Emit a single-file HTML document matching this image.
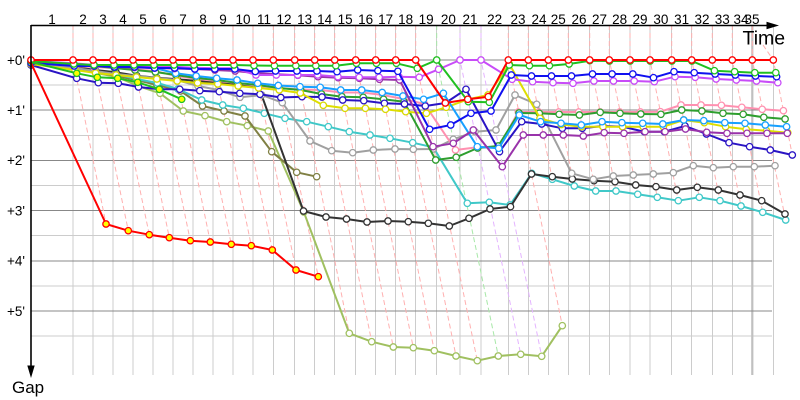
<!DOCTYPE html>
<html>
<head>
<meta charset="utf-8">
<style>
html,body{margin:0;padding:0;background:#fff;}
svg{display:block;}
text{font-family:"Liberation Sans",Arial,sans-serif;fill:#000;}
</style>
</head>
<body>
<svg width="800" height="400" viewBox="0 0 800 400" xmlns="http://www.w3.org/2000/svg">
<defs>
<marker id="mRed" viewBox="-5 -5 10 10" markerWidth="10" markerHeight="10" markerUnits="userSpaceOnUse"><circle r="3.2" fill="#fff" stroke="#ff0000" stroke-width="1.3"/></marker>
<marker id="mGreen" viewBox="-5 -5 10 10" markerWidth="10" markerHeight="10" markerUnits="userSpaceOnUse"><circle r="3.2" fill="#fff" stroke="#20c020" stroke-width="1.3"/></marker>
<marker id="mBlue" viewBox="-5 -5 10 10" markerWidth="10" markerHeight="10" markerUnits="userSpaceOnUse"><circle r="3.2" fill="#fff" stroke="#1010f0" stroke-width="1.3"/></marker>
<marker id="mViolet" viewBox="-5 -5 10 10" markerWidth="10" markerHeight="10" markerUnits="userSpaceOnUse"><circle r="3.2" fill="#fff" stroke="#c84cf8" stroke-width="1.3"/></marker>
<marker id="mPurple" viewBox="-5 -5 10 10" markerWidth="10" markerHeight="10" markerUnits="userSpaceOnUse"><circle r="3.2" fill="#fff" stroke="#9933aa" stroke-width="1.3"/></marker>
<marker id="mDodger" viewBox="-5 -5 10 10" markerWidth="10" markerHeight="10" markerUnits="userSpaceOnUse"><circle r="3.2" fill="#fff" stroke="#18a0ff" stroke-width="1.3"/></marker>
<marker id="mPink" viewBox="-5 -5 10 10" markerWidth="10" markerHeight="10" markerUnits="userSpaceOnUse"><circle r="3.2" fill="#fff" stroke="#ff90b0" stroke-width="1.3"/></marker>
<marker id="mDkGreen" viewBox="-5 -5 10 10" markerWidth="10" markerHeight="10" markerUnits="userSpaceOnUse"><circle r="3.2" fill="#fff" stroke="#2e9e2e" stroke-width="1.3"/></marker>
<marker id="mNavy" viewBox="-5 -5 10 10" markerWidth="10" markerHeight="10" markerUnits="userSpaceOnUse"><circle r="3.2" fill="#fff" stroke="#2a14c4" stroke-width="1.3"/></marker>
<marker id="mYellow" viewBox="-5 -5 10 10" markerWidth="10" markerHeight="10" markerUnits="userSpaceOnUse"><circle r="3.2" fill="#fff" stroke="#d8d800" stroke-width="1.3"/></marker>
<marker id="mGray" viewBox="-5 -5 10 10" markerWidth="10" markerHeight="10" markerUnits="userSpaceOnUse"><circle r="3.2" fill="#fff" stroke="#a0a0a0" stroke-width="1.3"/></marker>
<marker id="mBlack" viewBox="-5 -5 10 10" markerWidth="10" markerHeight="10" markerUnits="userSpaceOnUse"><circle r="3.2" fill="#fff" stroke="#333333" stroke-width="1.3"/></marker>
<marker id="mTeal" viewBox="-5 -5 10 10" markerWidth="10" markerHeight="10" markerUnits="userSpaceOnUse"><circle r="3.2" fill="#fff" stroke="#40c8c8" stroke-width="1.3"/></marker>
<marker id="mOlive" viewBox="-5 -5 10 10" markerWidth="10" markerHeight="10" markerUnits="userSpaceOnUse"><circle r="3.2" fill="#fff" stroke="#808044" stroke-width="1.3"/></marker>
<marker id="mYG" viewBox="-5 -5 10 10" markerWidth="10" markerHeight="10" markerUnits="userSpaceOnUse"><circle r="3.2" fill="#fff" stroke="#a0c060" stroke-width="1.3"/></marker>
<marker id="mRedY" viewBox="-5 -5 10 10" markerWidth="10" markerHeight="10" markerUnits="userSpaceOnUse"><circle r="3.2" fill="#ffff00" stroke="#ff0000" stroke-width="1.3"/></marker>
<marker id="mGreenY" viewBox="-5 -5 10 10" markerWidth="10" markerHeight="10" markerUnits="userSpaceOnUse"><circle r="3.2" fill="#ffff00" stroke="#20c020" stroke-width="1.3"/></marker>
</defs>

<!-- vertical grid -->
<g stroke="#cccccc" stroke-width="1" shape-rendering="crispEdges">
<path d="M73,25V375M93,25V375M113,25V375M133,25V375M153,25V375M173,25V375M193,25V375M213,25V375M233,25V375M253,25V375M273.3,25V375M294.7,25V375M314.7,25V375M334.7,25V375M355.7,25V375M375.7,25V375M395.7,25V375M415.7,25V375M436.7,25V375M460,25V375M481,25V375M508.3,25V375M528.3,25V375M548.3,25V375M568.3,25V375M589.7,25V375M609.3,25V375M630,25V375M650,25V375M671.7,25V375M691.7,25V375M712.3,25V375M732.3,25V375M773.3,25V375"/>
<path d="M31,85.1H772M31,135.3H772M31,185.5H772M31,235.7H772M31,285.9H772M31,336.1H772"/>
</g>
<line x1="752.3" y1="25" x2="752.3" y2="375" stroke="#c0c0c0" stroke-width="2.2"/>
<g stroke="#888888" stroke-width="1" shape-rendering="crispEdges">
<path d="M31,60H772M31,110.2H772M31,160.4H772M31,210.6H772M31,260.8H772M31,311H772"/>
</g>

<!-- dashed lap lines -->
<g fill="none" stroke="#ffb0b0" stroke-width="1" stroke-dasharray="5,3">
<path d="M73,25V60L106,224"/>
<path d="M93,25V60L128.3,230.7"/>
<path d="M113,25V60L149.3,234.7"/>
<path d="M133,25V60L169.3,237.7"/>
<path d="M153,25V60L190.3,240.7"/>
<path d="M173,25V60L210.3,242"/>
<path d="M193,25V60L231.3,244.3"/>
<path d="M213,25V60L251.3,245.7"/>
<path d="M233,25V60L272.3,250"/>
<path d="M253,25V60L296,270"/>
<path d="M273.3,25V60L318.3,276.7"/>
<path d="M294.7,25V60L349.3,333.3"/>
<path d="M314.7,25V60L371.7,341.7"/>
<path d="M334.7,25V60L393.3,347"/>
<path d="M355.7,25V60L413.3,347.7"/>
<path d="M375.7,25V60L434.3,350.7"/>
<path d="M395.7,25V60L456,356"/>
<path d="M415.7,25V60L477.3,360.7"/>
<path d="M508.3,25V60L562.3,325.7"/>
<path d="M528.3,25V60L552.3,179.3"/>
<path d="M548.3,25V60L574.3,186"/>
<path d="M568.3,25V60L595.7,191"/>
<path d="M589.7,25V60L616,191"/>
<path d="M609.3,25V60L637.7,194.3"/>
<path d="M630,25V60L657.3,197.3"/>
<path d="M650,25V60L678.3,200.7"/>
<path d="M671.7,25V60L699.3,197.3"/>
<path d="M691.7,25V60L720,200.7"/>
<path d="M712.3,25V60L741,206"/>
<path d="M732.3,25V60L762.7,212.3"/>
<path d="M752.3,25V60L785.7,220"/>
<path d="M763,45L773.3,60L792.3,155"/>
</g>
<path d="M436.7,25V60L498.3,356" fill="none" stroke="#a8e8a8" stroke-width="1" stroke-dasharray="5,3"/>
<g fill="none" stroke="#e4b4ff" stroke-width="1" stroke-dasharray="5,3">
<path d="M460,25V60L520.7,354.3"/>
<path d="M481,25V60L541.7,356.3"/>
</g>

<!-- series -->
<g fill="none" stroke-width="2" stroke-linejoin="round">
<polyline stroke="#a0c060" marker-start="url(#mYG)" marker-mid="url(#mYG)" marker-end="url(#mYG)" points="31,63 75.2,69 96,73 117,77 138.2,86 160,93.3 183.3,111 205,115.7 226.7,121.7 247.3,125.7 268.3,131 303.8,212 349.3,333.3 371.7,341.7 393.3,347 413.3,347.7 434.3,350.7 456,356 477.3,360.7 498.3,356 520.7,354.3 541.7,356.3 562.3,325.7"/>
<polyline stroke="#808044" marker-start="url(#mOlive)" marker-mid="url(#mOlive)" marker-end="url(#mOlive)" points="31,63 75,68 95.4,72 116,76 136.6,80 157,85 180.5,91 202.5,106 224,111 245,116 271.7,151.7 296.7,172.3 316.7,176.7"/>
<polyline stroke="#40c8c8" marker-start="url(#mTeal)" marker-mid="url(#mTeal)" marker-end="url(#mTeal)" points="31,63 75,67 95.2,70 115.8,74 136.6,79 157.4,83 178,89 201.7,100 222.7,105 243.3,108.3 264.3,113.3 285,118.3 306.7,121.7 328.3,126.7 349.3,131.7 370,135 390,138.3 412.7,142.7 433.3,147.3 467.3,203.3 489.3,202.3 510,205 531.7,173.3 552.3,179.3 574.3,186 595.7,191 616,191 637.7,194.3 657.3,197.3 678.3,200.7 699.3,197.3 720,200.7 741,206 762.7,212.3 785.7,220"/>
<polyline stroke="#333333" marker-start="url(#mBlack)" marker-mid="url(#mBlack)" marker-end="url(#mBlack)" points="31,62 74.4,67 95,70 116,72.3 136.7,75.7 156.7,77.7 177.3,79.3 197.7,81 218.3,82.7 238.3,85 258.5,86.5 303.5,211 326,217 346.5,219 367,222 388,221 408.3,221.7 428.3,223.3 449.3,226 469,218.3 490,209 510.5,206.7 531.5,174 552.3,176.7 572.3,179 594,180.7 615,181.7 635.7,185 656,186.7 676.7,190 697.3,187.3 718.3,190 740,195 761.7,200.7 785,214"/>
<polyline stroke="#a0a0a0" marker-start="url(#mGray)" marker-mid="url(#mGray)" marker-end="url(#mGray)" points="31,63 75,68 95.2,71 115.6,74 136,76 156.4,78 176.8,80 198,86 218.5,90 240,97.3 261.7,95 282.3,102.7 310,141 331.7,150.7 352.7,152.7 373.3,150 395,149 413.3,149.3 433.3,149 453.3,139.3 475,131.7 496,130 515,95 536.7,104.3 571.7,173.3 593.3,179.3 613.3,176 633.3,175 653.3,174 673.3,172.7 693.3,165.7 713.3,167.7 733.3,166.7 754.3,166.7 775,165.7"/>
<polyline stroke="#ff90b0" marker-start="url(#mPink)" marker-mid="url(#mPink)" marker-end="url(#mPink)" points="31,63 74,66 94.2,67 114.4,68 134.6,69.5 154.8,71 176.2,76 196.7,79 217.2,81 237.5,83 258.2,86 278.8,88 300.5,89.5 320.7,90 341.2,92.5 362.2,92.5 382.7,95 403.5,99 424.5,104 455.5,150 477.3,147.3 498.3,147.7 518.3,112 538.7,112 558.7,112 578.7,112 600.1,112 619.7,112 640.4,112 660.4,111.7 681,105 701,105 721.4,105.3 741.8,107.3 762.2,109.3 783.4,110.7"/>
<polyline stroke="#2e9e2e" marker-start="url(#mDkGreen)" marker-mid="url(#mDkGreen)" marker-end="url(#mDkGreen)" points="31,62 73.8,64 94.2,66 114.6,68 135,70 155.4,72 176,75 196.6,78 217,80 237.6,83 258,85 279,88 300.7,90 321.5,94 342,96.7 363.2,97.3 383.6,99.3 404,101.7 435.7,160 456.2,157.3 477.6,148 498.2,146 519,113 539.3,113.3 559.2,114.3 579.4,115 600.2,112.3 620,113.3 640.8,114 660.9,114.3 681.7,110 701.9,111 723,113.3 743.2,114.3 763.8,117.3 785.1,119"/>
<polyline stroke="#2a14c4" marker-start="url(#mNavy)" marker-mid="url(#mNavy)" marker-end="url(#mNavy)" points="31,65 76.7,78.3 98.3,82.7 118.3,83.3 138.5,87 159.7,89.3 179.7,89.3 199.8,90.7 219.3,91.7 239.8,93.3 260,94.3 280.8,97.5 302,96.7 322,97 342.7,100 363.8,100.7 384.4,103.3 404.5,104 425.3,106 445.5,103 466,89.3 499.5,151.7 521.7,121.7 541.7,124 562.3,128.3 582.3,128.3 602.9,126 622.6,126.7 644.3,131.7 664.3,131.7 685,126 706.5,134 729,142.7 749.6,146.7 770.3,150 792.3,155"/>
<polyline stroke="#dede00" marker-start="url(#mYellow)" marker-mid="url(#mYellow)" marker-end="url(#mYellow)" points="31,64 75,70 95.6,73 116,75 136.4,77 156.8,79 177.2,81 197.6,83 217.8,84 238.2,86 258.6,88 279.3,90 300.3,93 323.3,105.3 345,108.3 365.4,108.3 385.5,109.3 405.7,111.7 426.4,113.3 446.2,107.3 467.9,99.3 488,95 509.3,64 540,118.3 561.2,124.5 581.6,126.7 603,126.7 622.6,126.7 643.3,126.7 663.3,126.7 683.7,120 704.3,122.7 725.6,126.7 746.2,129.3 766.5,130.7 787.8,132.7"/>
<polyline stroke="#18a0ff" marker-start="url(#mDodger)" marker-mid="url(#mDodger)" marker-end="url(#mDodger)" points="31,62 73.8,64 94,65 114.2,66 134.4,67 154.6,68 175.7,73.3 196.2,76 216.7,78.3 237,80 257.7,83.3 278.3,85.5 300,86.7 320.2,87.3 340.7,90 361.7,90 382.2,92.5 403,96 423.6,99.3 443.4,93.3 477.3,146.7 498.7,148.3 519.3,115 540.6,121.7 561,123.3 581.3,125 602,121.7 621.9,122.7 642.7,123.3 662.8,124 683.7,120 703.8,120.7 724.8,122.7 745,123.3 765.3,125 786.6,126.7"/>
<polyline stroke="#9933aa" marker-start="url(#mPurple)" marker-mid="url(#mPurple)" marker-end="url(#mPurple)" points="31,62 74,65 94.2,66 114.4,67 134.4,67.5 154.6,68 174.6,68.5 194.8,69 214.9,70 235.2,71 255.6,73 276.2,74.3 297.8,75.3 318,76.7 338.2,77.7 359.4,78.3 379.5,79.3 399.7,80 433,146.7 453.3,143.3 473.3,130 502.3,166.7 523.3,135 543.3,135 563.3,135 583.3,136 604.2,132.7 624,133.3 645,131.7 665,131.7 685.5,129 706.7,132.3 727,133.3 747,133.3 767,133.3 787.3,133.3"/>
<polyline stroke="#c84cf8" marker-start="url(#mViolet)" marker-mid="url(#mViolet)" marker-end="url(#mViolet)" points="31,61 73.7,63.3 94,65 114.3,66.7 134.3,66.7 154.3,66.7 174.3,66.7 194.5,67.7 214.7,68.3 234.7,68.3 256,75 276.3,75 297.7,75 317.7,75 337.9,76.7 359.2,77.3 379.2,77.3 399,76.7 419.2,77.3 438.6,69.3 460,60 481,60 512.1,79.3 532.6,81.7 553,82.7 573,83.3 593.9,81 613.5,81 634.2,81 654.3,81.7 675,76.7 695.2,77.3 716.1,79 736.3,80 756.5,81 777.8,82.7"/>
<polyline stroke="#1010f0" marker-start="url(#mBlue)" marker-mid="url(#mBlue)" marker-end="url(#mBlue)" points="31,63 74.2,66 94.2,66 114.4,67 134.4,67 154.6,68 174.6,68 194.8,69 214.8,69 234.8,69 255.3,71.5 275.5,71 296.9,71 316.9,71 337,71.7 357.7,70 377.9,70.7 397.9,71.3 429.6,129.3 450.7,125 471,113.3 491,111 511.3,75 531.5,76 551.5,76 571.5,76 592.5,74 612.1,74 632.8,74 653.5,77.7 674,71.7 694.2,72.7 715.1,74 735.3,75 755.5,76 776.6,76.7"/>
<polyline stroke="#20c020" marker-start="url(#mGreen)" marker-mid="url(#mGreen)" marker-end="url(#mGreen)" points="31,61 73.8,64 94,65 114,65 134,65 154,65 174,65 194,65 214,65 234,65 254,65.5 274.4,65.7 295.8,65.7 315.8,65.7 335.8,65.7 356.4,63.3 376.4,63.3 396.4,63.3 417.3,68.3 436.7,60 468.3,101.7 489.3,102.3 509.3,65 529.4,65.7 549.4,65.7 569.1,64 589.8,60.7 609.5,61 630.2,61 650.2,61 671.9,61 691.9,61 714.4,70.7 734.6,71.7 754.8,72.7 775.8,72.7"/>
<polyline stroke="#ff0000" marker-start="url(#mRed)" marker-mid="url(#mRed)" marker-end="url(#mRed)" points="31,60 73,60 93,60 113,60 133,60 153,60 173,60 193,60 213,60 233,60 253,60 273.3,60 294.7,60 314.7,60 334.7,60 355.7,60 375.7,60 395.7,60 415.7,60 445.3,103 467.8,99.3 488.3,96.7 508.3,60 528.3,60 548.3,60 568.3,60 589.7,60 609.3,60 630,60 650,60 671.7,60 691.7,60 712.3,60 732.3,60 752.3,60 773.3,60"/>
<polyline stroke="#ff0000" marker-mid="url(#mRedY)" marker-end="url(#mRedY)" points="31,63 106,224 128.3,230.7 149.3,234.7 169.3,237.7 190.3,240.7 210.3,242 231.3,244.3 251.3,245.7 272.3,250 296,270 318.3,276.7"/>
<polyline stroke="#20c020" marker-mid="url(#mGreenY)" marker-end="url(#mGreenY)" points="31,62 76.7,73.3 97.3,77.3 117.7,78.3 137.7,82.3 159.3,89.3 181.7,99.3"/>
</g>

<!-- axes -->
<line x1="31" y1="25.5" x2="770" y2="25.5" stroke="#000" stroke-width="1.6"/>
<polygon points="779,25.5 766.5,21.8 766.5,29.2" fill="#000"/>
<line x1="31" y1="25" x2="31" y2="368" stroke="#000" stroke-width="1.6"/>
<polygon points="31,378 27.3,365.5 34.7,365.5" fill="#000"/>

<!-- top labels -->
<g font-size="13.5" text-anchor="middle">
<text x="52" y="24">1</text>
<text x="83" y="24">2</text>
<text x="103" y="24">3</text>
<text x="123" y="24">4</text>
<text x="143" y="24">5</text>
<text x="163" y="24">6</text>
<text x="183" y="24">7</text>
<text x="203" y="24">8</text>
<text x="223" y="24">9</text>
<text x="243" y="24">10</text>
<text x="264" y="24">11</text>
<text x="284" y="24">12</text>
<text x="304.7" y="24">13</text>
<text x="324.7" y="24">14</text>
<text x="345.2" y="24">15</text>
<text x="365.7" y="24">16</text>
<text x="385.7" y="24">17</text>
<text x="405.7" y="24">18</text>
<text x="426.2" y="24">19</text>
<text x="448.4" y="24">20</text>
<text x="470" y="24">21</text>
<text x="494.7" y="24">22</text>
<text x="518" y="24">23</text>
<text x="539" y="24">24</text>
<text x="558.3" y="24">25</text>
<text x="579" y="24">26</text>
<text x="599.5" y="24">27</text>
<text x="619.7" y="24">28</text>
<text x="640" y="24">29</text>
<text x="660.9" y="24">30</text>
<text x="681.7" y="24">31</text>
<text x="702" y="24">32</text>
<text x="722.3" y="24">33</text>
<text x="741" y="24">34</text>
<text x="752" y="24">35</text>
</g>

<!-- y labels -->
<g font-size="13.5" text-anchor="end">
<text x="25" y="64.8">+0'</text>
<text x="25" y="115">+1'</text>
<text x="25" y="165.2">+2'</text>
<text x="25" y="215.4">+3'</text>
<text x="25" y="265.6">+4'</text>
<text x="25" y="315.8">+5'</text>
</g>

<text x="742.5" y="44.5" font-size="19.5">Time</text>
<text x="12" y="393" font-size="17">Gap</text>
</svg>
</body>
</html>
